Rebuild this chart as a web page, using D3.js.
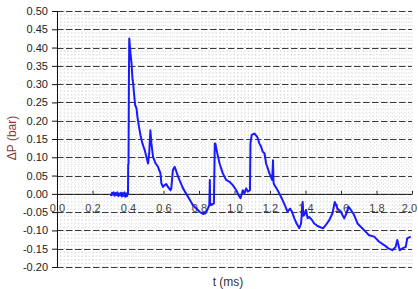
<!DOCTYPE html>
<html>
<head>
<meta charset="utf-8">
<script src="https://cdn.jsdelivr.net/npm/d3@7"></script>
<style>
  body { margin: 0; background: #fff; }
  #pressure { width: 418px; height: 289px; }
</style>
</head>
<body>
<div id="pressure" style="width:418px;height:289px"></div>
<script>
//
// Pressure trace dP(t)
//
var tValues = [0.300,0.305,0.310,0.315,0.320,0.325,0.330,0.335,0.340,0.345,0.350,0.355,0.360,0.365,0.370,0.375,0.380,0.385,0.390,0.395,0.398,
  0.400,0.401,0.403,0.405,0.407,0.414,0.420,0.425,0.429,0.434,0.440,0.448,0.453,0.462,0.472,0.481,0.494,0.504,0.513,0.520,0.526,0.532,0.541,0.556,0.569,0.583,0.588,0.597,0.607,0.616,0.625,0.639,0.644,0.653,0.663,0.676,0.682,0.710,0.738,0.766,0.785,0.803,0.822,0.837,0.850,0.858,0.861,0.863,0.869,0.884,0.889,0.892,0.903,0.916,0.934,0.953,0.972,0.990,1.010,1.022,1.034,1.047,1.056,1.066,1.075,1.087,1.090,1.097,1.112,1.128,1.140,1.150,1.159,1.169,1.178,1.197,1.212,1.217,1.220,1.225,1.243,1.257,1.271,1.287,1.299,1.313,1.324,1.337,1.350,1.365,1.375,1.384,1.388,1.393,1.403,1.412,1.421,1.437,1.449,1.468,1.487,1.500,1.515,1.534,1.552,1.565,1.580,1.599,1.618,1.631,1.642,1.656,1.674,1.693,1.711,1.740,1.758,1.787,1.815,1.843,1.867,1.889,1.908,1.917,1.931,1.946,1.965,1.973,1.993];
var pValues = [0.000,-0.004,0.003,-0.002,0.004,-0.005,0.002,-0.003,0.004,-0.006,0.001,-0.004,0.003,-0.007,0.002,-0.005,0.004,-0.008,0.001,-0.006,0.002,
  0.005,0.080,0.082,0.300,0.425,0.384,0.357,0.316,0.302,0.275,0.243,0.234,0.211,0.183,0.156,0.138,0.120,0.101,0.083,0.115,0.174,0.138,0.101,0.083,0.074,0.056,0.029,0.019,0.024,0.027,0.019,0.010,0.015,0.065,0.074,0.056,0.047,0.015,-0.008,-0.031,-0.040,-0.049,-0.055,-0.053,-0.040,-0.031,0.038,-0.025,-0.031,-0.026,0.138,0.138,0.111,0.083,0.056,0.038,0.033,0.024,0.010,-0.003,-0.012,0.010,0.001,0.015,0.006,0.010,0.138,0.161,0.165,0.156,0.138,0.129,0.115,0.111,0.083,0.056,0.038,0.092,0.030,0.024,0.010,-0.003,-0.017,-0.035,-0.049,-0.040,-0.049,-0.067,-0.081,-0.094,-0.081,-0.022,-0.060,-0.058,-0.044,-0.067,-0.063,-0.072,-0.081,-0.088,-0.092,-0.094,-0.085,-0.072,-0.053,-0.022,-0.040,-0.049,-0.067,-0.053,-0.035,-0.044,-0.058,-0.081,-0.090,-0.104,-0.113,-0.117,-0.131,-0.140,-0.149,-0.154,-0.145,-0.126,-0.154,-0.149,-0.145,-0.122,-0.117];

var xTicks = [0.0,0.2,0.4,0.6,0.8,1.0,1.2,1.4,1.6,1.8,2.0];
var yTicks = [-0.20,-0.15,-0.10,-0.05,0.00,0.05,0.10,0.15,0.20,0.25,0.30,0.35,0.40,0.45,0.50];

//
// size of the plot
//
var margin = {top: 11, right: 6, bottom: 22, left: 57};
var width = 418 - margin.left - margin.right;
var height = 289 - margin.top - margin.bottom;

var x = d3.scaleLinear().domain([0, 2]).range([0, width]);
var y = d3.scaleLinear().domain([-0.2, 0.5]).range([height, 0]);

var svg = d3.select("#pressure").append("svg")
	.attr("width", 418)
	.attr("height", 289)
	.style("font-family", "'Liberation Sans', Arial, sans-serif")
	.append("g")
	.attr("transform", "translate(" + margin.left + "," + margin.top + ")");

//
// minor dotted grid
//
var minorX = d3.range(0, 101).map(function(i) { return i * 0.02; });
var minorY = d3.range(0, 71).map(function(i) { return -0.2 + i * 0.01; });

svg.selectAll(".minorx")
	.data(minorX)
	.enter().append("line")
	.attr("x1", function(d) { return x(d); })
	.attr("x2", function(d) { return x(d); })
	.attr("y1", 0)
	.attr("y2", height)
	.style("stroke", "#d6d6d6")
	.style("stroke-width", 1)
	.style("stroke-dasharray", "1,2.6");

svg.selectAll(".minory")
	.data(minorY)
	.enter().append("line")
	.attr("x1", 0)
	.attr("x2", width)
	.attr("y1", function(d) { return y(d); })
	.attr("y2", function(d) { return y(d); })
	.style("stroke", "#d6d6d6")
	.style("stroke-width", 1)
	.style("stroke-dasharray", "1,2.6");

//
// major dashed grid
//
svg.selectAll(".major")
	.data(yTicks)
	.enter().append("line")
	.attr("x1", 0)
	.attr("x2", width)
	.attr("y1", function(d) { return Math.round(y(d)) + 0.5; })
	.attr("y2", function(d) { return Math.round(y(d)) + 0.5; })
	.style("stroke", "#3a3a3a")
	.style("stroke-width", 1.2)
	.style("stroke-dasharray", "6.5,2.5");

//
// Y axis
//
var axisY = svg.append("g")
	.call(d3.axisLeft(y)
		.tickValues(yTicks)
		.tickSizeInner(5)
		.tickSizeOuter(0)
		.tickPadding(4)
		.tickFormat(function(d) { return d.toFixed(2); }))
	.style("font-size", "11px");
axisY.select(".domain").style("stroke", "#111");
axisY.selectAll("line").style("stroke", "#111");
axisY.selectAll("text").style("fill", "#222").style("font-family", "'Liberation Sans', Arial, sans-serif");

//
// X axis on the zero line
//
var axisX = svg.append("g")
	.attr("transform", "translate(0," + y(0) + ")")
	.call(d3.axisBottom(x)
		.tickValues(xTicks)
		.tickSizeInner(-3)
		.tickSizeOuter(0)
		.tickPadding(10)
		.tickFormat(function(d) { return d.toFixed(1); }))
	.style("font-size", "11px");
axisX.select(".domain").style("stroke", "#222");
axisX.selectAll("line").style("stroke", "#222");
axisX.selectAll("text").style("fill", "#444").style("font-family", "'Liberation Sans', Arial, sans-serif");
// last label sits at the window edge; pull it in a little
axisX.selectAll("text").filter(function(d) { return d === 2; }).attr("x", -3);

//
// axis titles
//
svg.append("text")
	.attr("text-anchor", "middle")
	.attr("transform", "translate(" + (12 - margin.left) + "," + (138 - margin.top) + ") rotate(-90)")
	.attr("dy", "0.35em")
	.style("font-size", "12px")
	.style("fill", "#8b3535")
	.text("\u0394P (bar)");

svg.append("text")
	.attr("text-anchor", "middle")
	.attr("x", 228 - margin.left)
	.attr("y", 286 - margin.top)
	.style("font-size", "12px")
	.style("fill", "#333")
	.text("t (ms)");

//
// the pressure line
//
var data = tValues.map(function(t, i) { return {t: t, p: pValues[i]}; });

var valueline = d3.line()
	.x(function(d) { return x(d.t); })
	.y(function(d) { return y(d.p); });

svg.append("path")
	.attr("fill", "none")
	.style("stroke", "#1a1aff")
	.style("stroke-width", 2)
	.style("stroke-linejoin", "round")
	.attr("d", valueline(data));
</script>
</body>
</html>
